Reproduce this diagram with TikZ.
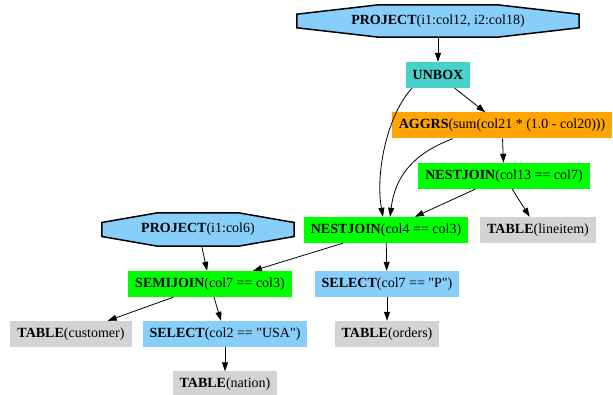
\documentclass[tikz,border=0pt]{standalone}
\usepackage{fontspec}
\setmainfont{Liberation Serif}
\usetikzlibrary{arrows.meta, calc, backgrounds}
\definecolor{skyblue}{HTML}{87CEFA}
\definecolor{turq}{HTML}{48D1CC}
\definecolor{aggorange}{HTML}{FFA500}
\definecolor{joingreen}{HTML}{00FF00}
\definecolor{tablegray}{HTML}{D3D3D3}

\begin{document}
\begin{tikzpicture}[x=1pt, y=1pt, font=\fontsize{14}{16}\selectfont,
    box/.style={rectangle, inner xsep=7pt, inner ysep=0pt, minimum height=26pt, minimum width=54pt},
    octbox/.style={rectangle, inner sep=0pt, minimum height=32pt},
    edge/.style={-{Triangle[length=9pt,width=6pt]}, line width=0.8pt}]
            \useasboundingbox (0,0) rectangle (613,395);

            \node[octbox, minimum width=282pt] at (438, 374)   (proj) {\textbf{PROJECT}(i1:col12, i2:col18)};
            \node[box, fill=turq] at (438, 320)   (unbox) {\textbf{UNBOX}};
            \node[box, fill=aggorange] at (502, 269.5)   (aggrs) {\textbf{AGGRS}(sum(col21 * (1.0 - col20)))};
            \node[box, fill=joingreen] at (504, 219)   (nj13) {\textbf{NESTJOIN}(col13 == col7)};
            \node[box, fill=tablegray] at (538, 165)   (lineitem) {\textbf{TABLE}(lineitem)};
            \node[box, fill=joingreen] at (386, 165)   (nj4) {\textbf{NESTJOIN}(col4 == col3)};
            \node[octbox, minimum width=192pt, minimum height=33pt] at (198, 165.5)   (projcol) {\textbf{PROJECT}(i1:col6)};
            \node[box, fill=joingreen] at (210, 111)   (semi) {\textbf{SEMIJOIN}(col7 == col3)};
            \node[box, fill=skyblue] at (387, 111)   (selp) {\textbf{SELECT}(col7 == \textquotedbl P\textquotedbl)};
            \node[box, fill=tablegray] at (71, 61)   (customer) {\textbf{TABLE}(customer)};
            \node[box, fill=skyblue] at (225, 61)   (selusa) {\textbf{SELECT}(col2 == \textquotedbl USA\textquotedbl)};
            \node[box, fill=tablegray] at (387, 61)   (orders) {\textbf{TABLE}(orders)};
            \node[box, fill=tablegray] at (225, 10.5)   (nation) {\textbf{TABLE}(nation)};

            % octagon outlines behind the two projections
            \begin{scope}[on background layer]
            \foreach \n in {proj, projcol}
                \filldraw[fill=skyblue, line width=1.5pt]
                    ($(\n.north west)!0.29!(\n.north east)$) -- ($(\n.north west)!0.71!(\n.north east)$)
                    -- ($(\n.north east)!0.29!(\n.south east)$) -- ($(\n.north east)!0.71!(\n.south east)$)
                    -- ($(\n.south west)!0.71!(\n.south east)$) -- ($(\n.south west)!0.29!(\n.south east)$)
                    -- ($(\n.north west)!0.71!(\n.south west)$) -- ($(\n.north west)!0.29!(\n.south west)$) -- cycle;
            \end{scope}

            \draw [edge] (proj) -- (unbox);
            \draw [edge] (unbox) -- (aggrs);
            \draw [edge] (unbox.207) .. controls +(-24,-25) and +(-8,45) .. (nj4.103);
            \draw [edge] (aggrs.195) .. controls +(-40,-15) and +(5,40) .. (nj4.73);
            \draw [edge] (aggrs) -- (nj13);
            \draw [edge] (nj13) -- (nj4);
            \draw [edge] (nj13) -- (lineitem);
            \draw [edge] (nj4) -- (semi);
            \draw [edge] (nj4) -- (selp);
            \draw [edge] (projcol) -- (semi);
            \draw [edge] (semi) -- (customer);
            \draw [edge] (semi) -- (selusa);
            \draw [edge] (selusa) -- (nation);
            \draw [edge] (selp) -- (orders);
        \end{tikzpicture}
\end{document}
